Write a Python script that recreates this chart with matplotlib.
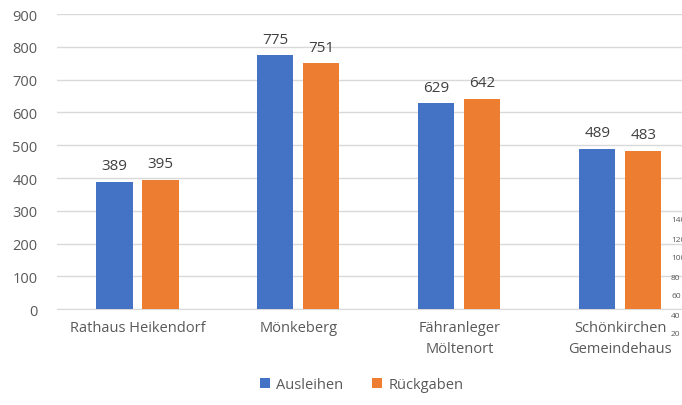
import numpy as np
import matplotlib
matplotlib.use("Agg")
import matplotlib.pyplot as plt

plt.rcParams['font.family'] = ['Open Sans', 'DejaVu Sans']

# data
categories = ["Rathaus Heikendorf", "Mönkeberg", "Fähranleger\nMöltenort", "Schönkirchen\nGemeindehaus"]
ausleihen = [389, 775, 629, 489]
rueckgaben = [395, 751, 642, 483]
yticks = [0, 100, 200, 300, 400, 500, 600, 700, 800, 900]
# partially visible axis of a second chart at the right edge
ghost_ticks = ["140", "120", "100", "80", "60", "40", "20"]

blue = "#4472C4"
orange = "#ED7D31"
grey = "#595959"

fig = plt.figure(figsize=(6.82, 4.06), dpi=100)
# plot area runs past the right edge (the source screenshot is cropped)
ax = fig.add_axes([0.0836, 0.236, 0.944, 0.727])

x = np.arange(len(categories))
w = 0.224
off = 0.143
b1 = ax.bar(x - off, ausleihen, w, color=blue, label="Ausleihen", zorder=3)
b2 = ax.bar(x + off, rueckgaben, w, color=orange, label="Rückgaben", zorder=3)

for bars in (b1, b2):
    for rect in bars:
        ax.annotate(f"{int(rect.get_height())}",
                    (rect.get_x() + rect.get_width() / 2, rect.get_height()),
                    xytext=(0, 6), textcoords="offset points",
                    ha="center", va="bottom", fontsize=11, color="#404040")

ax.set_xlim(-0.5, len(categories) - 0.5)
ax.set_ylim(0, 900)
ax.set_yticks(yticks)
ax.yaxis.grid(True, color="#D9D9D9", linewidth=1, zorder=0)
ax.set_xticks(x)
ax.set_xticklabels(categories, fontsize=10.5, color=grey, linespacing=1.5)
ax.tick_params(axis="y", labelsize=10.5, colors=grey, length=0, pad=14)
ax.tick_params(axis="x", length=0, pad=8)
for s in ax.spines.values():
    s.set_visible(False)
ax.spines["bottom"].set_visible(True)
ax.spines["bottom"].set_color("#D9D9D9")

fig.legend(loc="lower center", bbox_to_anchor=(0.53, 0.0), ncol=2, frameon=False,
           fontsize=10.5, handlelength=0.7, handleheight=0.7, handletextpad=0.4,
           columnspacing=2.0, labelcolor=grey)

for i, t in enumerate(ghost_ticks):
    fig.text(671 / 682, 1 - (221 + 19 * i) / 406, t, fontsize=6, color=grey,
             ha="left", va="center")

fig.savefig("out.png", dpi=100)
